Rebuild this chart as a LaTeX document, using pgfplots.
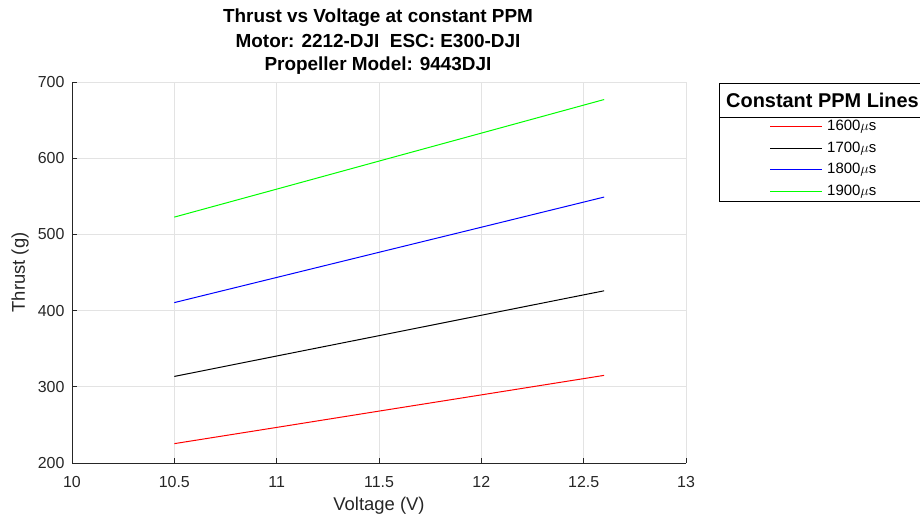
\documentclass[border=0pt]{standalone}
\usepackage{pgfplots}
\pgfplotsset{compat=1.18}
\usepackage{fontspec}
\setmainfont{Liberation Sans}
\definecolor{axgray}{gray}{0.15}
\definecolor{gridgray}{gray}{0.89}
\definecolor{pgreen}{RGB}{0,255,0}
\definecolor{pblue}{RGB}{0,0,255}
\definecolor{pred}{RGB}{255,0,0}
\begin{document}
\begin{tikzpicture}
\useasboundingbox (0,0) rectangle (920bp,519bp);
% legend (drawn first)
\draw[black, line width=1bp, fill=white] (719.5bp,317.5bp) rectangle (925bp,435.5bp);
\draw[black, line width=1bp] (719.5bp,401.5bp) -- (925bp,401.5bp);
\fill[fill=pred] (770bp,391.9bp) rectangle (822bp,393.1bp);
\fill[fill=black] (770bp,369.9bp) rectangle (822bp,371.1bp);
\fill[fill=pblue] (770bp,348.9bp) rectangle (822bp,350.1bp);
\fill[fill=pgreen] (770bp,326.9bp) rectangle (822bp,328.1bp);
\begin{axis}[
 at={(72bp,56bp)}, anchor=south west,
 scale only axis, width=614bp, height=381bp,
 xmin=10, xmax=13, ymin=200, ymax=700,
 xtick={10,10.5,11,11.5,12,12.5,13}, ytick={200,300,400,500,600,700},
 axis x line*=bottom, axis y line*=left,
 axis line style={axgray, line width=0.8bp},
 tick style={axgray, line width=0.8bp},
 tick align=inside, major tick length=5bp,
 grid=major, grid style={gridgray, line width=0.8bp},
 /pgf/number format/assume math mode=true,
 ticklabel style={font=\fontsize{16}{19}\selectfont, text=axgray},
 xticklabel style={yshift=-10bp},
 yticklabel style={xshift=-4bp},
 xlabel={Voltage (V)}, ylabel={Thrust (g)},
 label style={font=\fontsize{18.5}{22}\selectfont, text=axgray},
 xlabel style={at={(axis description cs:0.5,-0.1129)}, anchor=center},
 ylabel style={at={(axis description cs:-0.0847,0.5)}, anchor=center, rotate=0},
]
\addplot[pred, line width=1bp] coordinates {(10.5,225.4) (11,246.7) (11.5,268.1) (12,289.4) (12.6,315)};
\addplot[black, line width=1bp] coordinates {(10.5,313.6) (11,340.4) (11.5,367.1) (12,393.9) (12.6,426)};
\addplot[pblue, line width=1bp] coordinates {(10.5,410.5) (11,443.5) (11.5,476.5) (12,509.4) (12.6,549)};
\addplot[pgreen, line width=1bp] coordinates {(10.5,522.7) (11,559.4) (11.5,596.2) (12,632.9) (12.6,677)};
\end{axis}
\node[anchor=west, inner sep=0pt, font=\bfseries\fontsize{20}{24}\selectfont] at (726bp,419bp) {Constant PPM Lines};
\begin{scope}[every node/.style={anchor=west, inner sep=0pt, font=\fontsize{15}{18}\selectfont}]
\node at (827bp,392bp) {1600$\mu$s};
\node at (827bp,370bp) {1700$\mu$s};
\node at (827bp,349bp) {1800$\mu$s};
\node at (827bp,327bp) {1900$\mu$s};
\end{scope}
\node[anchor=base, inner sep=0pt, font=\bfseries\fontsize{19}{22}\selectfont] at (378bp,496bp) {Thrust vs Voltage at constant PPM};
\node[anchor=base, inner sep=0pt, font=\bfseries\fontsize{19}{22}\selectfont] at (378bp,471bp) {Motor: 2212-DJI\ \ ESC: E300-DJI};
\node[anchor=base, inner sep=0pt, font=\bfseries\fontsize{19}{22}\selectfont] at (378bp,448bp) {Propeller Model: 9443DJI};
\end{tikzpicture}
\end{document}
